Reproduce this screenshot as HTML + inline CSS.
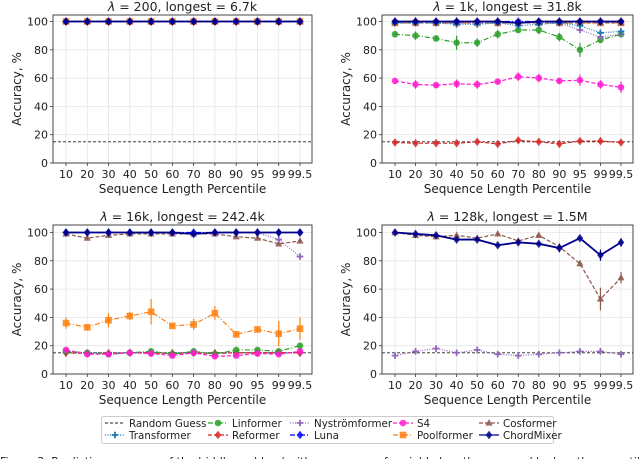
<!DOCTYPE html>
<html><head><meta charset="utf-8"><style>
body{margin:0;background:#fff;width:640px;height:459px;overflow:hidden;font-family:"DejaVu Sans","Liberation Sans",sans-serif}
svg text{font-family:"DejaVu Sans","Liberation Sans",sans-serif;fill:#222}
</style></head><body>
<svg id="fig" width="640" height="459" viewBox="0 0 640 459"></svg>
<script>
const categories=["10","20","30","40","50","60","70","80","90","95","99","99.5"];
const yTicks=[0,20,40,60,80,100];
const randomGuess=15;
const titles=["200|6.7k","1k|31.8k","16k|242.4k","128k|1.5M"];
const full=[100,100,100,100,100,100,100,100,100,100,100,100];
// panel 1
const p1Transformer=full, p1Linformer=full, p1Reformer=full, p1Nystrom=full, p1Luna=full, p1S4=full, p1Poolformer=full, p1Cosformer=full, p1ChordMixer=full;
// panel 2
const p2Transformer=[99,99,99,98,98,99,97,98,99,97,92,93];
const p2Linformer=[91,90,88,85,85,91,94,94,89,80,87,91];
const p2LinformerErr=[2,3,2,5,3,3,2,3,3,5,2,2];
const p2Reformer=[14.5,14,14,14,15,13.5,16,15,13.5,15.5,15.5,14.5];
const p2Nystrom=[99,99,99,99,99,99,99,99,99,94,89,91];
const p2Luna=full;
const p2S4=[58,55.5,55,56,55.5,57.5,61,60,58,58.5,55.5,53.5];
const p2S4Err=[2,3,2,3,3,2,3,3,2,4,3,4];
const p2Poolformer=[99,99,99,99,99,99,99,99,99,99,99,99];
const p2Cosformer=[99,99,99,99,99,99,99,99,99,99,99,99];
const p2ChordMixer=[100,100,100,100,100,100,99,100,100,100,100,100];
// panel 3
const p3Transformer=[15,15,15,15,15,15,15,15,15,15,15,15];
const p3Linformer=[16,15,14,15,16,14,16,14,17,17,16,20];
const p3Reformer=[15,14.5,14.5,15,15,14.5,15,14.5,15,15,15,15];
const p3Nystrom=[100,100,100,100,100,100,99,100,100,100,95,83];
const p3Luna=full;
const p3S4=[17,14,14,15,14.5,13,15,12.5,13,14.5,14,16];
const p3Poolformer=[36,33,38,41,44,34,35,43,28,31.5,28.5,32];
const p3PoolformerErr=[4,2,5,3,9,2,4,5,2,2,9,8];
const p3Cosformer=[99,96,98,99,99,99,99,99,97,96,92,94];
const p3ChordMixer=[100,100,100,100,100,100,99,100,100,100,100,100];
// panel 4
const p4Nystrom=[13,16,18,15,17,14,13,14,15,16,16,14];
const p4Cosformer=[100,98,97,98,96,99,94,98,90,78,53,68];
const p4CosformerErr=[1,1,1,1,1,1,1,1,1,2,8,4];
const p4ChordMixer=[100,99,98,95,95,91,93,92,89,96,84,93];
const p4ChordMixerErr=[1,1,1,1,1,1,1,1,3,1,4,3];

const C={Transformer:"#1f77b4",Linformer:"#2ca02c",Reformer:"#d62728",Nystrom:"#9467bd",Luna:"#0000ff",S4:"#ff1ccf",Poolformer:"#ff7f0e",Cosformer:"#8c564b",ChordMixer:"#00008b"};
const D={Transformer:"1,1.5",Linformer:"5,2,1,2",Reformer:"4,2",Nystrom:"1,1.5",Luna:"5,2,1,2",S4:"4,2",Poolformer:"5,2,1,2",Cosformer:"4,2",ChordMixer:""};
const M={Transformer:"plus",Linformer:"circle",Reformer:"diamond",Nystrom:"plus",Luna:"diamond",S4:"circle",Poolformer:"square",Cosformer:"triangle",ChordMixer:"diamond"};
const NS="http://www.w3.org/2000/svg";
const svg=document.getElementById('fig');
function el(t,a,p){const e=document.createElementNS(NS,t);for(const k in a)e.setAttribute(k,a[k]);(p||svg).appendChild(e);return e;}
function marker(g,type,x,y,c,s){
  let e;
  if(type==="circle")e=el('circle',{cx:x,cy:y,r:s},g);
  else if(type==="square")e=el('rect',{x:x-s,y:y-s,width:2*s,height:2*s},g);
  else if(type==="diamond")e=el('polygon',{points:`${x},${y-s*1.3} ${x+s},${y} ${x},${y+s*1.3} ${x-s},${y}`},g);
  else if(type==="triangle")e=el('polygon',{points:`${x},${y-s*1.2} ${x+s*1.1},${y+s*0.8} ${x-s*1.1},${y+s*0.8}`},g);
  else {e=el('path',{d:`M${x-s},${y}H${x+s}M${x},${y-s}V${y+s}`,stroke:c,'stroke-width':1.8,fill:'none'},g);}
  if(type!=="plus"){e.setAttribute('fill',c);e.setAttribute('fill-opacity',0.85);}
  return e;
}
const panels=[
 {L:53,R:312,T:15,B:163,series:{Transformer:[p1Transformer],Linformer:[p1Linformer],Reformer:[p1Reformer],Nystrom:[p1Nystrom],S4:[p1S4],Poolformer:[p1Poolformer],Cosformer:[p1Cosformer],Luna:[p1Luna],ChordMixer:[p1ChordMixer]}},
 {L:382,R:633,T:15,B:163,series:{Reformer:[p2Reformer],S4:[p2S4,p2S4Err],Linformer:[p2Linformer,p2LinformerErr],Poolformer:[p2Poolformer],Cosformer:[p2Cosformer],Nystrom:[p2Nystrom],Transformer:[p2Transformer],Luna:[p2Luna],ChordMixer:[p2ChordMixer]}},
 {L:53,R:312,T:225,B:374,series:{Transformer:[p3Transformer],Reformer:[p3Reformer],Linformer:[p3Linformer],S4:[p3S4],Poolformer:[p3Poolformer,p3PoolformerErr],Cosformer:[p3Cosformer],Nystrom:[p3Nystrom],Luna:[p3Luna],ChordMixer:[p3ChordMixer]}},
 {L:382,R:633,T:225,B:374,series:{Nystrom:[p4Nystrom],Cosformer:[p4Cosformer,p4CosformerErr],ChordMixer:[p4ChordMixer,p4ChordMixerErr]}}
];
panels.forEach((p,pi)=>{
  const g=el('g',{});
  
  
  const y100=p.B-141.5;
  const ys=v=>p.B-(v/100)*(p.B-y100);
  const x0=p.L+13, x1=p.R-12;
  const xs=i=>x0+i*(x1-x0)/(categories.length-1);
  yTicks.forEach(t=>{
    el('line',{x1:p.L,x2:p.R,y1:ys(t),y2:ys(t),stroke:'#e6e6e6','stroke-width':0.8},g);
    el('line',{x1:p.L-3,x2:p.L,y1:ys(t),y2:ys(t),stroke:'#333','stroke-width':0.8},g);
    const tx=el('text',{x:p.L-5,y:ys(t)+4,'text-anchor':'end','font-size':11},g);tx.textContent=t;
    
  });
  categories.forEach((c,i)=>{
    el('line',{x1:xs(i),x2:xs(i),y1:p.T,y2:p.B,stroke:'#e6e6e6','stroke-width':0.8},g);
    el('line',{x1:xs(i),x2:xs(i),y1:p.B,y2:p.B+3,stroke:'#333','stroke-width':0.8},g);
    const tx=el('text',{x:xs(i),y:p.B+15,'text-anchor':'middle','font-size':11},g);tx.textContent=c;
    
  });
  el('line',{x1:p.L,x2:p.R,y1:ys(randomGuess),y2:ys(randomGuess),stroke:'#222','stroke-width':0.9,'stroke-dasharray':'3,2'},g);
  for(const name in p.series){
    const [vals,err]=p.series[name];
    const sg=el('g',{},g);
    
    
    const pts=vals.map((v,i)=>xs(i)+','+ys(v)).join(' ');
    el('polyline',{points:pts,fill:'none',stroke:C[name],'stroke-width':name==="ChordMixer"?1.8:1.2,'stroke-dasharray':D[name]},sg);
    vals.forEach((v,i)=>{
      const e=err?err[i]:1;
      el('line',{x1:xs(i),x2:xs(i),y1:ys(v-e),y2:ys(v+e),stroke:C[name],'stroke-width':1.2},sg);
      marker(sg,M[name],xs(i),ys(v),C[name],3.3);
    });
  }
  el('rect',{x:p.L,y:p.T,width:p.R-p.L,height:p.B-p.T,fill:'none',stroke:'#333','stroke-width':0.9},g);
  const [lam,lng]=titles[pi].split('|');
  const tt=el('text',{x:(p.L+p.R)/2,y:p.T-4,'text-anchor':'middle','font-size':12.5},g);
  tt.innerHTML=`<tspan font-style="italic">λ</tspan> = ${lam}, longest = ${lng}`;
  
  const xl=el('text',{x:(p.L+p.R)/2,y:p.B+30,'text-anchor':'middle','font-size':12},g);xl.textContent="Sequence Length Percentile";
  
  const yl=el('text',{x:0,y:0,'text-anchor':'middle','font-size':12,transform:`translate(${p.L-32},${(p.T+p.B)/2}) rotate(-90)`},g);yl.textContent="Accuracy, %";
  
});
// legend
const lg=el('g',{});


el('rect',{x:101.5,y:416.5,width:452,height:27,rx:2,fill:'#fff',stroke:'#ccc'},lg);
const legendItems=[["Random Guess",null,105,423],["Transformer","Transformer",105,435],["Linformer","Linformer",208,423],["Reformer","Reformer",208,435],["Nyströmformer","Nystrom",290,423],["Luna","Luna",290,435],["S4","S4",393,423],["Poolformer","Poolformer",393,435],["Cosformer","Cosformer",479,423],["ChordMixer","ChordMixer",479,435]];
legendItems.forEach(([label,k,x,y])=>{
  const e=el('g',{},lg);
  
  
  if(!k){el('line',{x1:x,x2:x+20,y1:y,y2:y,stroke:'#222','stroke-width':1,'stroke-dasharray':'3,2'},e);}
  else{el('line',{x1:x,x2:x+20,y1:y,y2:y,stroke:C[k],'stroke-width':1.3,'stroke-dasharray':D[k]},e);marker(e,M[k],x+10,y,C[k],3.3);}
  const t=el('text',{x:x+24,y:y+4,'font-size':10.3},e);t.textContent=label;
});
const cap=el('text',{x:0,y:465,'font-size':11,fill:'#333'});
cap.textContent="Figure 3: Prediction accuracy of the 'riddle problem' with sequences of variable lengths, grouped by length percentile for";

</script>
</body></html>
